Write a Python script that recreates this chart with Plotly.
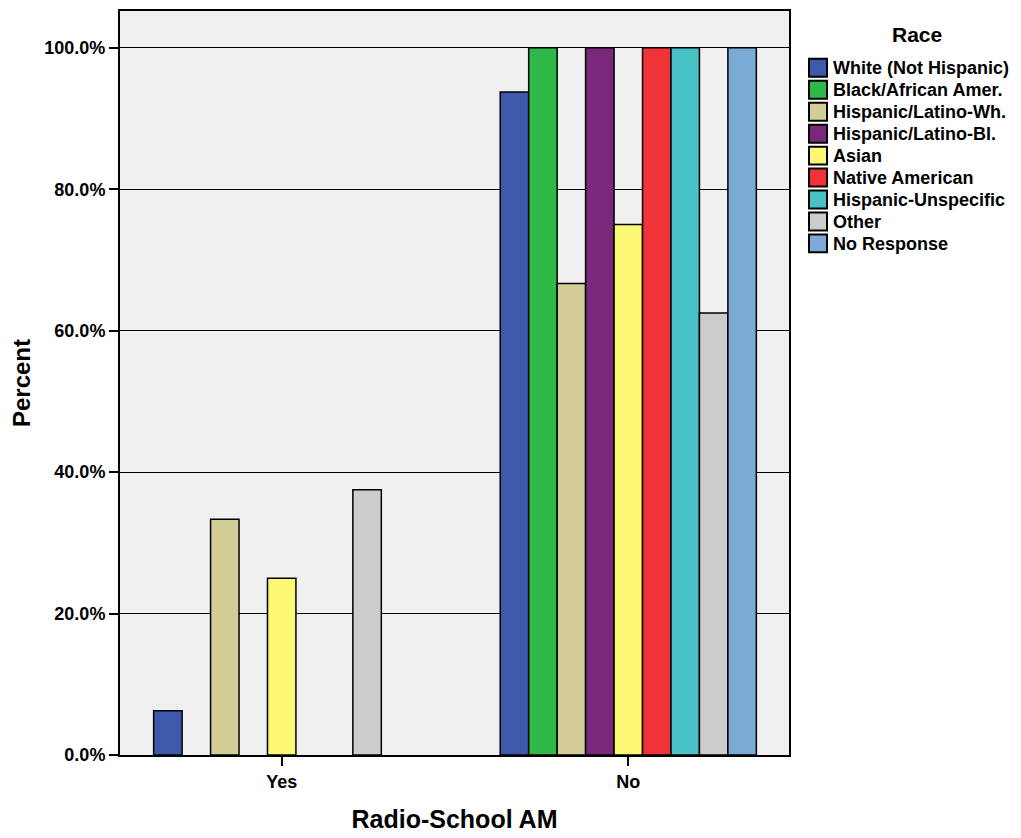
import plotly.graph_objects as go

categories = ["Yes", "No"]
races = ["White (Not Hispanic)", "Black/African Amer.", "Hispanic/Latino-Wh.",
         "Hispanic/Latino-Bl.", "Asian", "Native American",
         "Hispanic-Unspecific", "Other", "No Response"]
yes_pct = [6.25, None, 33.33, None, 25.0, None, None, 37.5, None]
no_pct = [93.75, 100.0, 66.67, 100.0, 75.0, 100.0, 100.0, 62.5, 100.0]
colors = ["#3E58AC", "#2EB848", "#D3CE97", "#7A287B", "#FBF873",
          "#EF3338", "#48C2C5", "#CCCCCC", "#7BAAD5"]
y_ticks = [0, 20, 40, 60, 80, 100]

FONT = "Liberation Sans, Arial, sans-serif"

W, H = 1013, 830
ML, MR, MT, MB = 112, 232, 1, 83
PW, PH = W - ML - MR, H - MT - MB


def px(fx):
    return (fx - ML) / PW


def py(fy):
    return (H - MB - fy) / PH


fig = go.Figure()
for name, yv, nv, col in zip(races, yes_pct, no_pct, colors):
    fig.add_trace(go.Bar(
        x=categories, y=[yv, nv], name=name,
        marker=dict(color=col, line=dict(color="black", width=1.5)),
        showlegend=False,
    ))

# custom legend (swatches + labels)
shapes = []
annotations = [dict(
    x=px(909), y=py(25), xref="paper", yref="paper", text="Race",
    showarrow=False, xanchor="center", yanchor="middle",
    font=dict(size=21, family=FONT, weight="bold", color="black"),
)]
for i, (name, col) in enumerate(zip(races, colors)):
    top = 49 + 22 * i
    shapes.append(dict(
        type="rect", xref="paper", yref="paper",
        x0=px(801), x1=px(819), y0=py(top + 18), y1=py(top),
        fillcolor=col, line=dict(color="black", width=2),
    ))
    annotations.append(dict(
        x=px(823), y=py(top + 9.5), xref="paper", yref="paper", text=name,
        showarrow=False, xanchor="left", yanchor="middle",
        font=dict(size=18, family=FONT, weight="bold", color="black"),
    ))

fig.update_layout(
    width=W, height=H,
    margin=dict(l=ML, r=MR, t=MT, b=MB),
    barmode="group", bargap=0.261, bargroupgap=0,
    plot_bgcolor="#F0F0F0", paper_bgcolor="white",
    font=dict(family=FONT, color="black", size=18, weight="bold"),
    showlegend=False,
    shapes=shapes, annotations=annotations,
)

fig.update_xaxes(
    type="category", range=[-0.4666, 1.4637],
    showline=True, linecolor="black", linewidth=2, mirror=True,
    ticks="outside", ticklen=9, tickwidth=2, tickcolor="black",
    tickfont=dict(size=18, family=FONT, weight="bold"),
    title=dict(text="Radio-School AM", font=dict(size=25, family=FONT, weight="bold"), standoff=20),
    showgrid=False,
)
fig.update_yaxes(
    range=[0, 105.2],
    showline=True, linecolor="black", linewidth=2, mirror=True,
    ticks="outside", ticklen=9, tickwidth=2, tickcolor="black",
    tickvals=y_ticks, ticktext=["%.1f%%" % v for v in y_ticks],
    tickfont=dict(size=18, family=FONT, weight="bold"),
    showgrid=True, gridcolor="black", gridwidth=1.3,
    zeroline=False,
    title=dict(text="Percent", font=dict(size=24, family=FONT, weight="bold"), standoff=14),
)

fig.write_html("out.html")
